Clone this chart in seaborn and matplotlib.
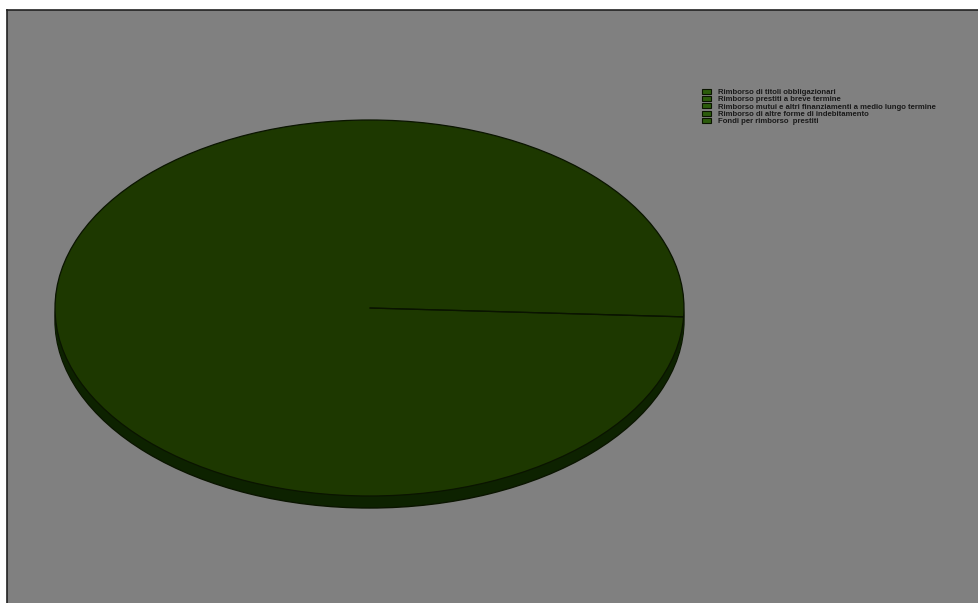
import seaborn as sns
import matplotlib.pyplot as plt
from matplotlib.patches import Patch

# legend categories and slice values (one category holds everything)
categories = [
    "Rimborso di titoli obbligazionari",
    "Rimborso prestiti a breve termine",
    "Rimborso mutui e altri finanziamenti a medio lungo termine",
    "Rimborso di altre forme di indebitamento",
    "Fondi per rimborso  prestiti",
]
values = [0, 0, 100, 0, 0]

top_color = "#1d3800"
side_color = "#0d2200"
edge_color = "#0a1400"
bg_gray = "#808080"

sns.set_theme(style="white")
plt.rcParams['font.family'] = ['Liberation Sans', 'DejaVu Sans']

W, H = 979, 603
fig = plt.figure(figsize=(W / 100, H / 100), dpi=100)
fig.patch.set_facecolor("white")

# gray panel
bg = fig.add_axes([7 / W, 0, (W - 7) / W, (H - 10) / H])
bg.set_facecolor(bg_gray)
bg.set_xticks([])
bg.set_yticks([])
for side in ["right", "bottom"]:
    bg.spines[side].set_visible(False)
for side in ["left", "top"]:
    bg.spines[side].set_color("#222222")
    bg.spines[side].set_linewidth(1.2)

# pie axes placed over the ellipse box
cx, cy, rx, ry = 369.5, 308, 314.5, 188
depth = 12
pie_ax = fig.add_axes([(cx - rx) / W, (H - (cy + ry + depth)) / H,
                       2 * rx / W, (2 * ry + depth) / H])

start = -2.7
# side of the disc
for k in range(depth, 0, -1):
    pie_ax.pie(values, radius=1, center=(0, -k / ry), startangle=start,
               colors=[side_color] * len(values),
               wedgeprops=dict(linewidth=1.0 if k == depth else 0, edgecolor=edge_color),
               frame=True)
# top face
pie_ax.pie(values, radius=1, center=(0, 0), startangle=start,
           colors=[top_color] * len(values),
           wedgeprops=dict(linewidth=0.9, edgecolor=edge_color),
           frame=True)
pie_ax.set_aspect("auto")
pie_ax.set_xlim(-1, 1)
pie_ax.set_ylim(-1 - depth / ry, 1)
pie_ax.axis("off")

handles = [Patch(facecolor="#2c5c0c", edgecolor="#0a1400", linewidth=0.8) for _ in categories]
fig.legend(handles, categories, loc="upper left",
           bbox_to_anchor=(702 / W, 1 - 89 / H),
           frameon=False, handlelength=1.1, handleheight=0.6, handletextpad=1.0,
           labelspacing=0.0, borderpad=0, borderaxespad=0,
           prop=dict(size=5.6, weight="bold"), labelcolor="#1a1a1a")

plt.savefig("out.png", dpi=100)
